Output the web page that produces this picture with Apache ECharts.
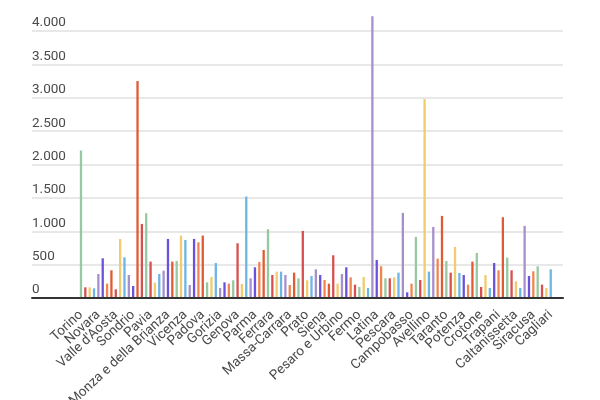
<!DOCTYPE html>
<html>
<head>
<meta charset="utf-8">
<script src="https://cdn.jsdelivr.net/npm/echarts@6/dist/echarts.min.js"></script>
<style>
html,body{margin:0;padding:0;background:#fff;}
#chart{width:600px;height:400px;}
</style>
</head>
<body>
<div id="chart"></div>
<script>
const provinces = [
  "Torino","Vercelli","Biella","Verbano-Cusio-Ossola","Novara","Cuneo","Asti","Alessandria",
  "Valle d'Aosta","Varese","Como","Lecco","Sondrio","Milano","Bergamo","Brescia",
  "Pavia","Cremona","Mantova","Lodi","Monza e della Brianza","Bolzano","Trento","Verona",
  "Vicenza","Belluno","Treviso","Venezia","Padova","Rovigo","Udine","Pordenone",
  "Gorizia","Trieste","Imperia","Savona","Genova","La Spezia","Piacenza","Reggio nell'Emilia",
  "Parma","Modena","Bologna","Ravenna","Ferrara","Forlì-Cesena","Rimini","Lucca",
  "Massa-Carrara","Pistoia","Firenze","Livorno","Prato","Pisa","Arezzo","Grosseto",
  "Siena","Perugia","Terni","Ancona","Pesaro e Urbino","Macerata","Ascoli Piceno","In fase di definizione/aggiornamento",
  "Fermo","Viterbo","Rieti","Roma","Latina","Frosinone","L'Aquila","Teramo",
  "Pescara","Chieti","Isernia","In fase di definizione/aggiornamento","Campobasso","Caserta","Benevento","Napoli",
  "Avellino","Salerno","Foggia","Bari","Taranto","Brindisi","Lecce","Barletta-Andria-Trani",
  "Potenza","Matera","Cosenza","Catanzaro","Crotone","Vibo Valentia","Reggio di Calabria","In fase di definizione/aggiornamento",
  "Trapani","Palermo","Messina","Agrigento","Caltanissetta","Enna","Catania","Ragusa",
  "Siracusa","Sassari","Nuoro","Oristano","Cagliari"
];

const values = [
  2210,160,160,145,360,595,215,415,
  130,885,610,345,180,3250,1110,1270,
  545,230,360,410,885,545,555,935,
  870,195,885,835,935,235,315,525,
  150,235,215,265,820,210,1520,295,
  460,540,720,1030,345,395,395,345,
  195,380,295,1005,265,330,430,345,
  270,215,640,215,360,460,310,200,
  165,315,150,4220,570,475,295,295,
  310,380,1275,85,215,915,270,2980,
  395,1065,590,1230,555,380,765,375,
  345,200,545,675,165,345,150,525,
  415,1210,605,415,250,150,1080,330,
  400,475,200,150,430
];

const yTicks = [0,500,1000,1500,2000,2500,3000,3500,4000];
const labelEvery = 4;

// style: colour of each bar (keys into palette)
const palette = {
  G:'#96c8a2', R:'#d6504e', Y:'#f1cb6d', B:'#6cb5e6',
  L:'#a78fcb', P:'#6b52dc', S:'#f2854f', O:'#e15a33'
};
const barColorKeys = (
  'G R Y B L P S O R Y B L P O R G ' +
  'R Y B L P O G Y B L P S O G Y B ' +
  'L P S G R Y B L P S O G R Y B L ' +
  'S O G R Y B L P S O R Y L P S R ' +
  'G Y B L P S G R Y B L P S G R Y ' +
  'B L S O G R Y B P S O G R Y B P ' +
  'S O G R Y B L P S G R Y B'
).trim().split(/\s+/);

const fmt = v => String(v).replace(/\B(?=(\d{3})+(?!\d))/g, '.');

const chart = echarts.init(document.getElementById('chart'), null, {renderer:'canvas'});
const labelColor = '#4a4a4a';
const font = 'Roboto';

chart.setOption({
  backgroundColor:'#ffffff',
  animation:false,
  grid:[
    {left:32, right:37, top:31, bottom:102, containLabel:false, outerBoundsMode:'none'},
    {left:78.8, right:47.1, top:31, bottom:102, containLabel:false, outerBoundsMode:'none'}
  ],
  xAxis:[
    {gridIndex:0, type:'category', data:[''], axisTick:{show:false}, axisLabel:{show:false},
     axisLine:{show:true, lineStyle:{color:'#333333', width:2}}, z:5},
    {gridIndex:1, type:'category', data:provinces, boundaryGap:true,
     axisLine:{show:false}, axisTick:{show:false},
     axisLabel:{interval:0, rotate:43, margin:15, hideOverlap:false,
       formatter:(v,i)=> (i % labelEvery === 0 ? v : ''),
       color:labelColor, fontFamily:font, fontSize:13.5}}
  ],
  yAxis:[
    {gridIndex:0, type:'value', min:yTicks[0], max:yTicks[yTicks.length-1], interval:yTicks[1]-yTicks[0],
     axisLine:{show:false}, axisTick:{show:false},
     splitLine:{show:true, lineStyle:{color:'#e0e0e0', width:1.5}},
     axisLabel:{inside:true, margin:0, align:'left', verticalAlign:'bottom', padding:[0,0,1,0],
       color:labelColor, fontFamily:font, fontSize:13.5, formatter:fmt}},
    {gridIndex:1, type:'value', min:yTicks[0], max:yTicks[yTicks.length-1], show:false}
  ],
  series:[{
    type:'bar', xAxisIndex:1, yAxisIndex:1, clip:false, barWidth:2.3,
    data: values.map((v,i)=>({value:v, itemStyle:{color:palette[barColorKeys[i]]}})),
    z:3
  }]
});
</script>
</body>
</html>
